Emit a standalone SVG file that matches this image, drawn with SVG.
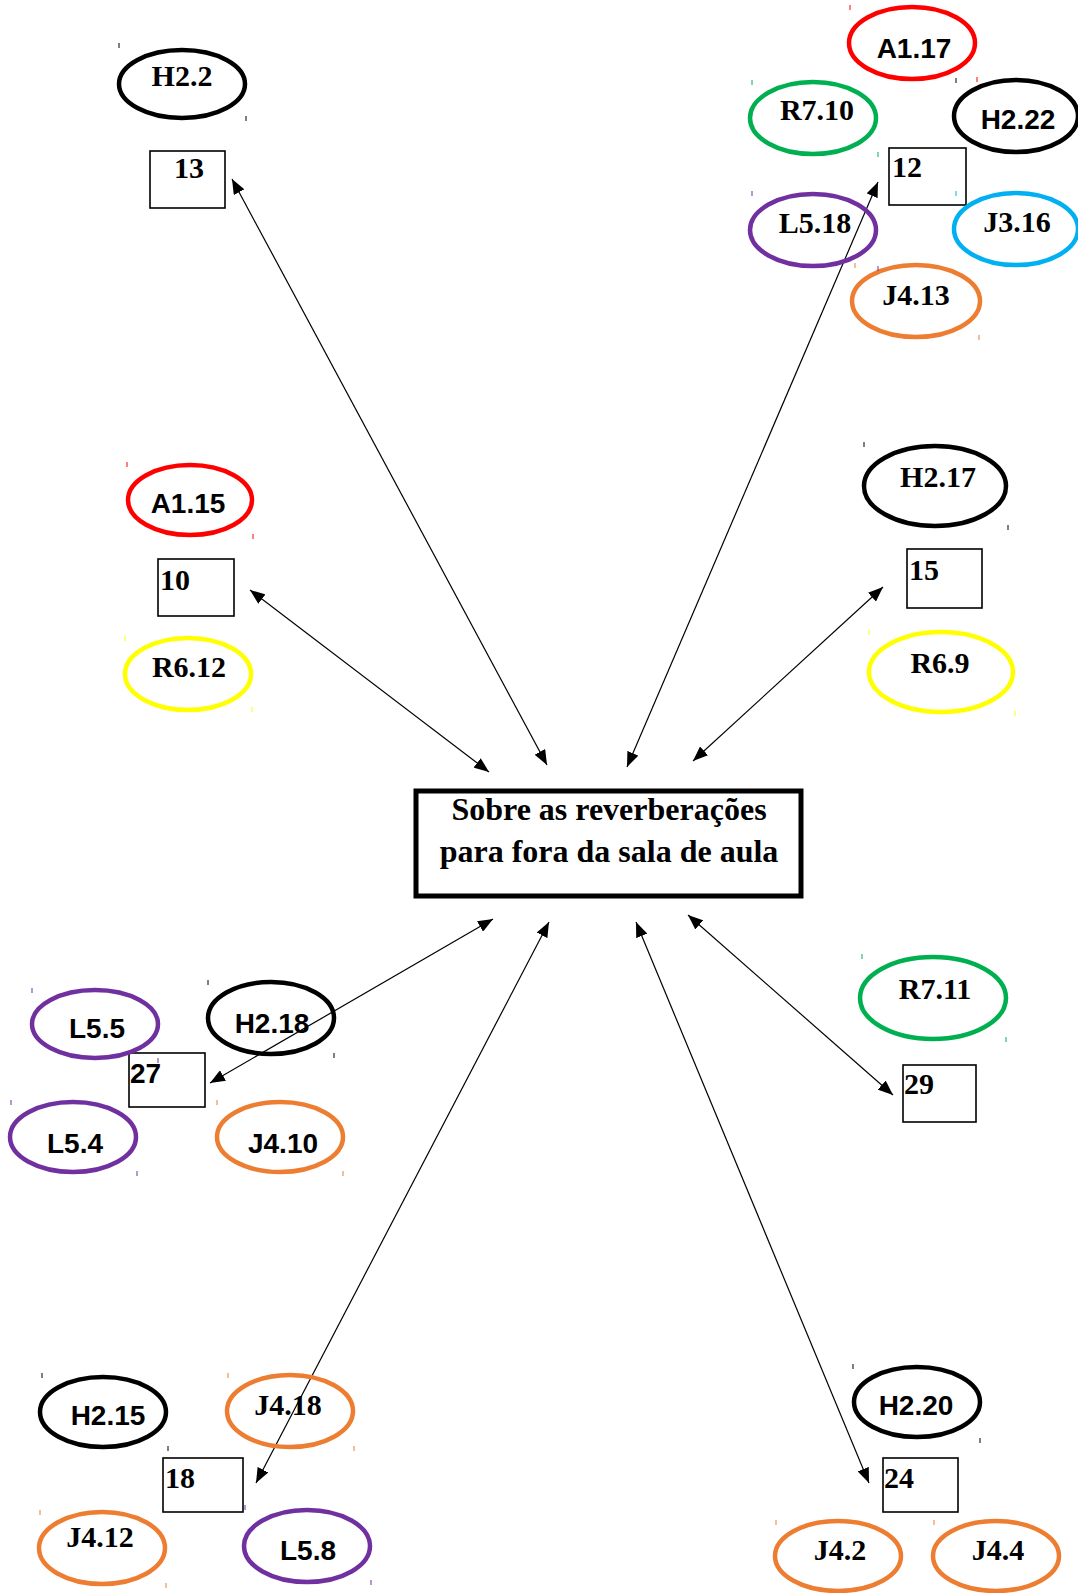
<svg xmlns="http://www.w3.org/2000/svg" width="1078" height="1593" viewBox="0 0 1078 1593">
<style>
.e{fill:none;stroke-width:4.5}
.k{stroke:#000}.r{stroke:#FF0000}.g{stroke:#00B050}.b{stroke:#00B0F0}.p{stroke:#7030A0}.o{stroke:#ED7D31}.y{stroke:#FFFF00}
.box{fill:#fff;stroke:#000;stroke-width:1.6}
.se{font-family:"Liberation Serif","Times New Roman",serif;font-weight:bold;font-size:30px;fill:#000}
.sa{font-family:"Liberation Sans",Arial,sans-serif;font-weight:bold;font-size:28px;fill:#000}
.m{text-anchor:middle}
.c{fill:none;stroke:#000;stroke-width:1.2;marker-start:url(#ah);marker-end:url(#ah)}
.t{stroke-width:1}
</style>
<defs>
<marker id="ah" markerUnits="userSpaceOnUse" markerWidth="16" markerHeight="12" refX="15" refY="6" orient="auto-start-reverse">
<path d="M0,0 L15,6 L0,12 z" fill="#000"/>
</marker>
</defs>
<rect width="1078" height="1593" fill="#fff"/>

<g id="connectors">
<line class="c" x1="232" y1="179" x2="547" y2="765"/>
<line class="c" x1="878" y1="182" x2="627" y2="767"/>
<line class="c" x1="250" y1="590" x2="489" y2="772"/>
<line class="c" x1="883" y1="587" x2="693" y2="761"/>
<line class="c" x1="210" y1="1083" x2="493" y2="919"/>
<line class="c" x1="256" y1="1483" x2="549" y2="922"/>
<line class="c" x1="869" y1="1483" x2="636" y2="922"/>
<line class="c" x1="893" y1="1095" x2="688" y2="915"/>
</g>

<g id="center">
<rect x="416" y="791" width="385" height="105" fill="none" stroke="#000" stroke-width="5"/>
<text class="se m" x="609" y="820" style="font-size:32px">Sobre as reverberações</text>
<text class="se m" x="609" y="862" style="font-size:32px">para fora da sala de aula</text>
</g>

<g id="box13"><rect class="box" x="150" y="151" width="75" height="57"/><text class="se" x="174" y="178">13</text></g>
<g id="box12"><rect class="box" x="889" y="148" width="77" height="57"/><text class="se" x="892" y="177">12</text></g>
<g id="box10"><rect class="box" x="158" y="559" width="76" height="57"/><text class="se" x="160" y="590">10</text></g>
<g id="box15"><rect class="box" x="907" y="549" width="75" height="59"/><text class="se" x="909" y="580">15</text></g>
<g id="box27"><rect class="box" x="129" y="1053" width="76" height="54"/><text class="sa" x="130" y="1083">27</text></g>
<g id="box29"><rect class="box" x="903" y="1065" width="73" height="57"/><text class="se" x="904" y="1094">29</text></g>
<g id="box18"><rect class="box" x="163" y="1458" width="80" height="54"/><text class="se" x="165" y="1488">18</text></g>
<g id="box24"><rect class="box" x="883" y="1458" width="75" height="54"/><text class="se" x="884" y="1488">24</text></g>

<g id="H2.2"><ellipse class="e k" cx="182" cy="84" rx="63" ry="34"/><text class="se m" x="182" y="86">H2.2</text></g>
<g id="A1.17"><ellipse class="e r" cx="912" cy="43" rx="63" ry="36"/><text class="sa m" x="914" y="58">A1.17</text></g>
<g id="R7.10"><ellipse class="e g" cx="813" cy="118" rx="63" ry="36"/><text class="se m" x="817" y="120">R7.10</text></g>
<g id="H2.22"><ellipse class="e k" cx="1016" cy="116" rx="62" ry="36"/><text class="sa m" x="1018" y="129">H2.22</text></g>
<g id="L5.18"><ellipse class="e p" cx="813" cy="230" rx="63" ry="36"/><text class="se m" x="815" y="233">L5.18</text></g>
<g id="J3.16"><ellipse class="e b" cx="1016" cy="229" rx="62" ry="36"/><text class="se m" x="1017" y="232">J3.16</text></g>
<g id="J4.13"><ellipse class="e o" cx="916" cy="301" rx="64" ry="36"/><text class="se m" x="916" y="305">J4.13</text></g>
<g id="A1.15"><ellipse class="e r" cx="190" cy="500" rx="62" ry="35"/><text class="sa m" x="188" y="513">A1.15</text></g>
<g id="R6.12"><ellipse class="e y" cx="188" cy="674" rx="63" ry="36"/><text class="se m" x="189" y="677">R6.12</text></g>
<g id="H2.17"><ellipse class="e k" cx="935" cy="486" rx="71" ry="40"/><text class="se m" x="938" y="487">H2.17</text></g>
<g id="R6.9"><ellipse class="e y" cx="941" cy="672" rx="72" ry="40"/><text class="se m" x="940" y="673">R6.9</text></g>
<g id="L5.5"><ellipse class="e p" cx="95" cy="1024" rx="63" ry="34"/><text class="sa m" x="97" y="1038">L5.5</text></g>
<g id="H2.18"><ellipse class="e k" cx="271" cy="1018" rx="63" ry="36"/><text class="sa m" x="272" y="1033">H2.18</text></g>
<g id="L5.4"><ellipse class="e p" cx="73" cy="1137" rx="63" ry="35"/><text class="sa m" x="75" y="1153">L5.4</text></g>
<g id="J4.10"><ellipse class="e o" cx="280" cy="1137" rx="63" ry="35"/><text class="sa m" x="283" y="1153">J4.10</text></g>
<g id="R7.11"><ellipse class="e g" cx="933" cy="998" rx="73" ry="41"/><text class="se m" x="935" y="999">R7.11</text></g>
<g id="H2.15"><ellipse class="e k" cx="103" cy="1412" rx="63" ry="35"/><text class="sa m" x="108" y="1425">H2.15</text></g>
<g id="J4.18"><ellipse class="e o" cx="290" cy="1411" rx="63" ry="36"/><text class="se m" x="288" y="1415">J4.18</text></g>
<g id="J4.12"><ellipse class="e o" cx="102" cy="1548" rx="63" ry="36"/><text class="se m" x="100" y="1547">J4.12</text></g>
<g id="L5.8"><ellipse class="e p" cx="307" cy="1546" rx="63" ry="36"/><text class="sa m" x="308" y="1560">L5.8</text></g>
<g id="H2.20"><ellipse class="e k" cx="917" cy="1402" rx="63" ry="35"/><text class="sa m" x="916" y="1415">H2.20</text></g>
<g id="J4.2"><ellipse class="e o" cx="838" cy="1556" rx="63" ry="35"/><text class="se m" x="840" y="1560">J4.2</text></g>
<g id="J4.4"><ellipse class="e o" cx="996" cy="1556" rx="63" ry="35"/><text class="se m" x="998" y="1560">J4.4</text></g>

<g id="ticks" class="t">
<path class="k" d="M119,43v5M246,116v5M956,78v5M864,442v5M1008,525v5M208,980v5M334,1053v5M42,1373v5M168,1446v5M853,1364v5M980,1438v5"/>
<path class="r" d="M850,5v5M977,77v5M127,462v5M253,534v5"/>
<path class="g" d="M752,80v5M878,152v5M862,954v5M1006,1037v5"/>
<path class="p" d="M752,191v5M878,266v5M32,988v5M158,1058v5M11,1100v5M137,1171v5M245,1505v5M371,1580v5"/>
<path class="b" d="M956,191v5"/>
<path class="o" d="M855,263v5M979,335v5M217,1100v5M343,1171v5M228,1373v5M354,1446v5M40,1510v5M166,1583v5M776,1520v5M934,1520v5"/>
<path class="y" d="M125,636v5M252,707v5M869,630v5M1015,711v5"/>
</g>
</svg>
